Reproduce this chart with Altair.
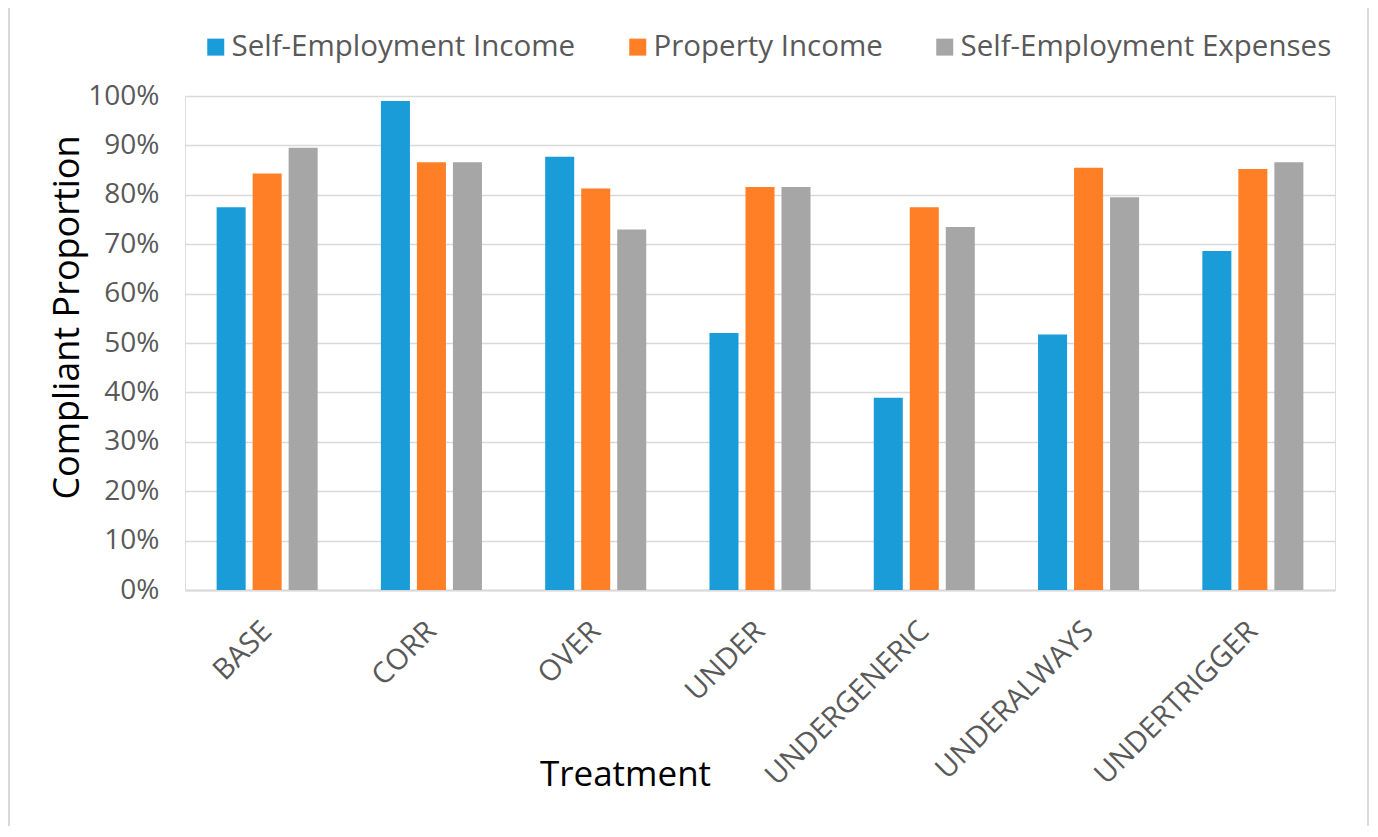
import altair as alt
import pandas as pd

treatments = ["BASE", "CORR", "OVER", "UNDER", "UNDERGENERIC", "UNDERALWAYS", "UNDERTRIGGER"]
series = ["Self-Employment Income", "Property Income", "Self-Employment Expenses"]
self_emp_income = [0.775, 0.990, 0.877, 0.520, 0.389, 0.517, 0.686]
property_income = [0.843, 0.866, 0.813, 0.816, 0.775, 0.855, 0.852]
self_emp_expenses = [0.895, 0.866, 0.730, 0.816, 0.735, 0.795, 0.866]
colors = ["#199CD8", "#FF7F27", "#A6A6A6"]

rows = []
for name, vals in zip(series, [self_emp_income, property_income, self_emp_expenses]):
    for t, v in zip(treatments, vals):
        rows.append({"Treatment": t, "Series": name, "Value": v})
df = pd.DataFrame(rows)

FONT = "Open Sans"
W, H = 1150, 494

bars = alt.Chart(df).mark_bar().encode(
    x=alt.X("Treatment:N", sort=treatments,
            scale=alt.Scale(paddingInner=0.385, paddingOuter=0.1925),
            axis=alt.Axis(title="Treatment", labelAngle=-45, labelAlign="right",
                          labelBaseline="middle", labelPadding=36, labelLimit=0,
                          labelFont=FONT, labelFontSize=29, labelColor="#595959",
                          titleFont=FONT, titleFontSize=35, titleFontWeight="normal",
                          titleColor="#000000", titleX=440, titleY=195,
                          titleBaseline="alphabetic", titleAlign="center",
                          ticks=False, domainColor="#D9D9D9", domainWidth=2,
                          grid=False)),
    xOffset=alt.XOffset("Series:N", sort=series,
                        scale=alt.Scale(paddingInner=0.194, paddingOuter=0.0)),
    y=alt.Y("Value:Q", scale=alt.Scale(domain=[0, 1], nice=False),
            axis=alt.Axis(title="Compliant Proportion", format=".0%",
                          values=[i / 10 for i in range(11)],
                          labelFont=FONT, labelFontSize=28, labelColor="#595959",
                          labelPadding=26, ticks=False, domain=False,
                          gridColor="#D9D9D9", gridWidth=1.5,
                          titleFont=FONT, titleFontSize=36, titleFontWeight="normal",
                          titleColor="#000000", titleX=-107, titleY=221,
                          titleBaseline="alphabetic", titleAlign="center",
                          titleAngle=-90)),
    color=alt.Color("Series:N", sort=series,
                    scale=alt.Scale(domain=series, range=colors),
                    legend=alt.Legend(title=None, orient="none", direction="horizontal",
                                      legendX=16, legendY=-64,
                                      symbolType="square", symbolSize=289,
                                      symbolStrokeWidth=0, labelLimit=0,
                                      labelFont=FONT, labelFontSize=29.5,
                                      labelColor="#595959", labelOffset=1,
                                      columnPadding=47)),
)

frame_left = alt.Chart().mark_rule(color="#D9D9D9", strokeWidth=2).encode(
    x=alt.value(-176), y=alt.value(-89), y2=alt.value(H + 240))
frame_top = alt.Chart().mark_rule(color="#D9D9D9", strokeWidth=2).encode(
    x=alt.value(-176), x2=alt.value(W + 33), y=alt.value(-89))
frame_right = alt.Chart().mark_rule(color="#D9D9D9", strokeWidth=2).encode(
    x=alt.value(W + 33), y=alt.value(-89), y2=alt.value(H + 240))

chart = alt.layer(bars, frame_left, frame_top, frame_right).properties(
    width=W, height=H,
    autosize=alt.AutoSizeParams(type="none"),
    padding={"left": 177, "top": 88, "right": 35, "bottom": 236},
).configure_view(stroke=None).configure(background="#FFFFFF")

chart.save("out.html", embed_options={"renderer": "svg", "actions": False})
